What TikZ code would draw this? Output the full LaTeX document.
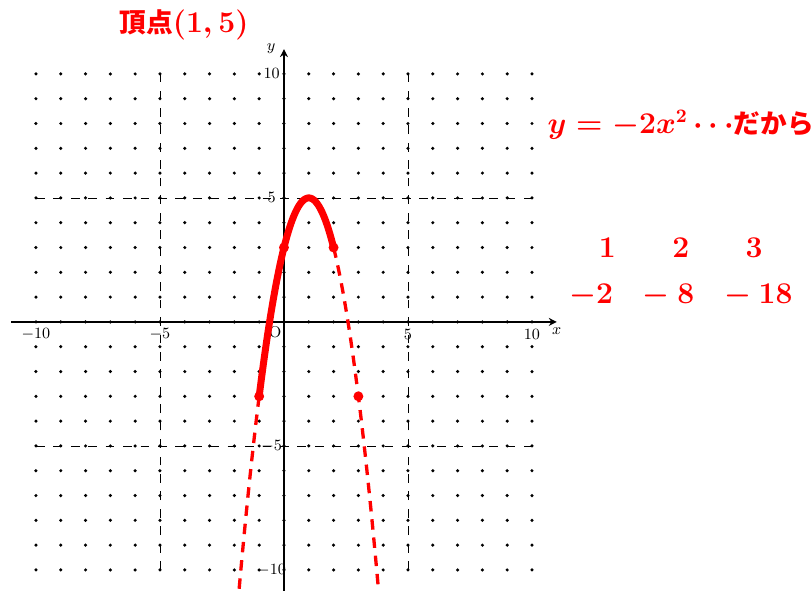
\documentclass[tikz,border=0pt]{standalone}
\usepackage{fontspec}
\newfontfamily\cjk{Noto Sans CJK JP}
\usetikzlibrary{arrows.meta}
\newcommand\bigtxt{\fontsize{16.2}{20}\selectfont\bfseries\boldmath}
\newcommand\cjktxt{\fontsize{15.3}{18}\selectfont\cjk\bfseries}
\newcommand\smalltxt{\fontsize{9}{11}\selectfont}
\newcommand\rowgap{\hskip0.78em}
\begin{document}
\begin{tikzpicture}[x=0.5cm,y=0.5cm,
  griddash/.style={line width=0.45pt,dash pattern=on 5pt off 5pt},
  axisline/.style={line width=0.7pt,-{Stealth[length=4.6pt,width=4.6pt]}},
  ticklbl/.style={font=\smalltxt,inner sep=0pt},
  redtxt/.style={text=red,font=\bigtxt,inner sep=0pt},
  curvesolid/.style={red,line width=4pt,line cap=round},
  curvedash/.style={red,line width=1.9pt,dash pattern=on 6pt off 4.5pt},
  reddot/.style={red}]
\useasboundingbox (-11.45,-10.81) rectangle (21.29,12.98);
\clip (-11.45,-10.81) rectangle (21.29,12.98);
% dashed guide lines
\foreach \k in {-5,5}{
  \draw[griddash] (\k,-10) -- (\k,10);
  \draw[griddash] (-10,\k) -- (10,\k);
}
% axes
\coordinate (xs) at (-11,0); \coordinate (xe) at (11,0);
\coordinate (ys) at (0,-11); \coordinate (ye) at (0,11);
\draw[axisline] (xs) -- (xe);
\draw[axisline] (ys) -- (ye);
% lattice dots
\foreach \i in {-10,...,10}{
  \foreach \j in {-10,...,10}{
    \fill (\i,\j) circle (0.07);
  }
}
% tick labels
\foreach \k/\t in {-10/$-10$,-5/$-5$,5/$5$,10/$10$}{
  \node[ticklbl] at (\k,-0.5) {\t};
  \node[ticklbl] at (-0.5,\k) {\t};
}
\node[ticklbl] (O) at (-0.36,-0.42) {O};
\node[ticklbl] (xl) at (11,-0.39) {$x$};
\node[ticklbl] (yl) at (-0.52,11.0) {$y$};
% parabola
\draw[curvedash,domain=-1:-2,samples=40] plot (\x,{-2*(\x-1)^2+5});
\draw[curvedash,domain=2:3.95,samples=60] plot (\x,{-2*(\x-1)^2+5});
\draw[curvesolid,domain=-1:2,samples=80] plot (\x,{-2*(\x-1)^2+5});
\foreach \p in {(-1,-3),(0,3),(2,3),(3,-3)}{
  \fill[reddot] \p circle (0.2);
}
% texts
\node[redtxt,anchor=base] (title) at (-4.03,11.65) {{\cjktxt 頂点}$(1,5)$};
\node[redtxt,anchor=base] (eq) at (16,7.58) {$y=-2x^2\cdots${\cjktxt だから}};
\node[redtxt] (row1) at (16,3) {$1\qquad2\qquad3$};
\node[redtxt] (row2) at (16,1.05) {$-2\rowgap-8\rowgap-18$};
\end{tikzpicture}
\end{document}
